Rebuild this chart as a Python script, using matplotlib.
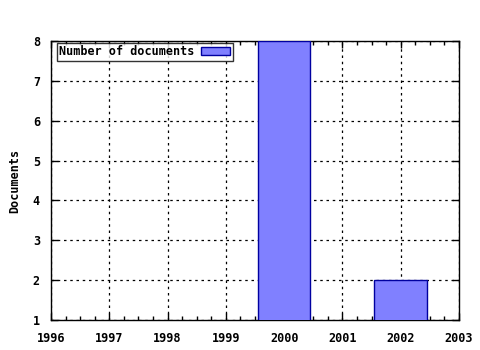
import matplotlib
matplotlib.use("Agg")
import matplotlib.pyplot as plt
from matplotlib.ticker import MultipleLocator

years = [2000, 2002]
documents = [8, 2]
x_ticks = [1996, 1997, 1998, 1999, 2000, 2001, 2002, 2003]
y_ticks = [1, 2, 3, 4, 5, 6, 7, 8]
series_label = "Number of documents"
y_label = "Documents"

font = {"family": "DejaVu Sans Mono", "weight": "bold", "size": 8.5}

fig = plt.figure(figsize=(4.8, 3.5), dpi=100)
ax = fig.add_axes([51/480, 30/350, 408/480, 279/350])

ax.bar(years, documents, width=0.9, color="#8080ff", edgecolor="#0000a0",
       linewidth=1, label=series_label, zorder=3)

ax.set_xlim(1996, 2003)
ax.set_ylim(1, 8)
ax.set_xticks(x_ticks)
ax.set_yticks(y_ticks)
ax.xaxis.set_minor_locator(MultipleLocator(0.25))
ax.set_xticklabels([str(v) for v in x_ticks], fontdict=font)
ax.set_yticklabels([str(v) for v in y_ticks], fontdict=font)
ax.tick_params(which="both", direction="in", top=True, right=True, color="black")
ax.tick_params(which="major", length=5, width=1)
ax.tick_params(which="minor", length=3, width=1)
ax.tick_params(axis="x", pad=9)
ax.tick_params(axis="y", pad=8)

ax.grid(True, which="major", linestyle=(0, (2, 3)), color="black", linewidth=0.9, zorder=1)
ax.set_axisbelow(True)
for s in ax.spines.values():
    s.set_linewidth(1)
    s.set_color("black")

ax.set_ylabel(y_label, fontdict=font, labelpad=8)

leg = ax.legend(loc="upper left", bbox_to_anchor=(6/408, 1 - 2/279), markerfirst=False,
                prop={"family": "DejaVu Sans Mono", "weight": "bold", "size": 8.5},
                frameon=True, fancybox=False, borderaxespad=0.0, borderpad=0.2,
                handlelength=2.5, handleheight=0.6, handletextpad=0.5)
leg.get_frame().set_edgecolor("black")
leg.get_frame().set_linewidth(1)

fig.savefig("out.png", dpi=100)
